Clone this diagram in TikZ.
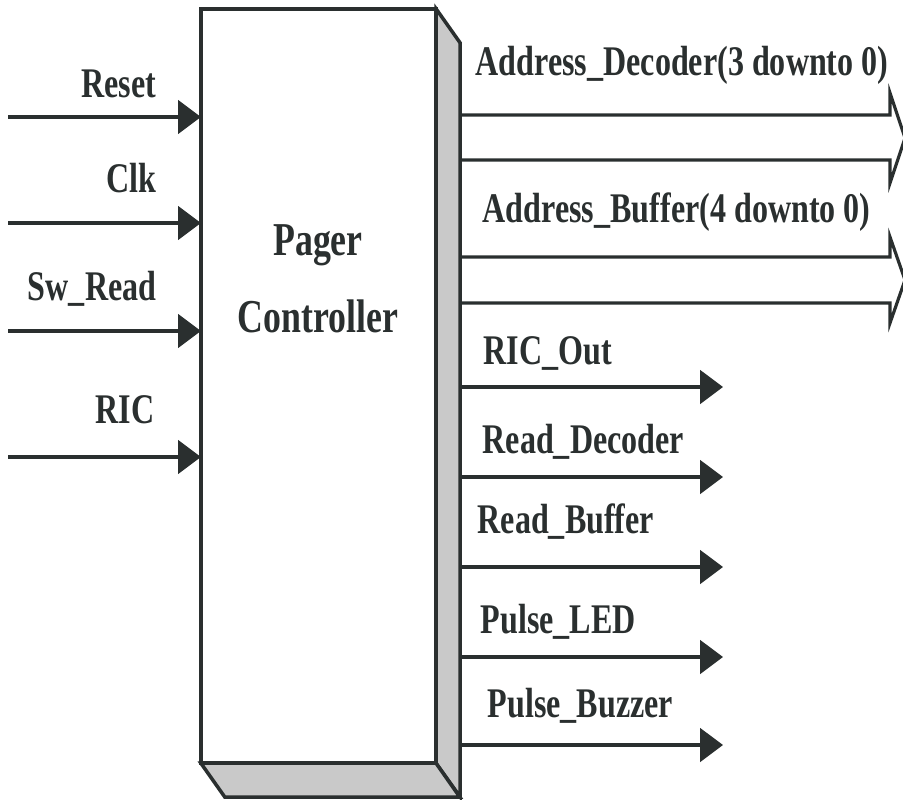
\documentclass[tikz,border=0pt]{standalone}
\usepackage{fontspec}
\setmainfont{Liberation Serif}[FakeStretch=0.76]
\usetikzlibrary{positioning,arrows.meta,calc}
\definecolor{ink}{HTML}{2A2F2F}
\definecolor{face}{HTML}{C9C9C9}

\begin{document}
\begin{tikzpicture}[x=0.01cm, y=-0.01cm,
    sig/.style={-{Triangle[length=6.5pt,width=9.5pt]}, ink, line width=0.9pt},
    lbl/.style={text=ink, font=\fontsize{12}{14}\selectfont\bfseries, inner sep=0pt},
    title/.style={text=ink, font=\fontsize{13.4}{16}\selectfont\bfseries, inner sep=0pt},
    bus/.style={ink, line width=0.9pt, line join=miter}]
  \useasboundingbox (0,0) rectangle (903,799);

  % Controller block
  \node[draw=ink, line width=1.2pt, fill=white, inner sep=0pt, outer sep=0pt,
    minimum width=2.35cm, minimum height=7.54cm] (pc) at (318.5,386) {};
  \filldraw[fill=face, draw=ink, line width=1pt]
    (pc.north east) -- ++(24,34) -- ++(0,754) -- (pc.south east) -- cycle;
  \filldraw[fill=face, draw=ink, line width=1pt]
    (pc.south west) -- ++(24,34) -- ++(235,0) -- (pc.south east) -- cycle;
  \node[title, anchor=base] (pager) at (318,255) {Pager};
  \node[title, anchor=base] (ctrl) at (318,332) {Controller};

  % Inputs
  \coordinate (reset-in) at (8,117);
  \draw[sig] (reset-in) -- (reset-in -| pc.west);
  \node[lbl, anchor=base east] (reset) at (157,97) {Reset};

  \coordinate (clk-in) at (8,223);
  \draw[sig] (clk-in) -- (clk-in -| pc.west);
  \node[lbl, anchor=base east] (clk) at (157,192) {Clk};

  \coordinate (swread-in) at (8,331);
  \draw[sig] (swread-in) -- (swread-in -| pc.west);
  \node[lbl, anchor=base east] (swread) at (157,300) {Sw\_Read};

  \coordinate (ric-in) at (8,457);
  \draw[sig] (ric-in) -- (ric-in -| pc.west);
  \node[lbl, anchor=base east] (ric) at (155,423) {RIC};

  % Address buses
  \draw[bus] (460,115) -- (890,115) -- (890,93) -- (905,138) -- (890,183)
    -- (890,160) -- (460,160);
  \node[lbl, anchor=base west] (adec) at (475,75) {Address\_Decoder(3 downto 0)};

  \draw[bus] (460,257) -- (890,257) -- (890,237) -- (905,280) -- (890,323)
    -- (890,303) -- (460,303);
  \node[lbl, anchor=base west] (abuf) at (482,222) {Address\_Buffer(4 downto 0)};

  % Outputs
  \coordinate (ricout-src) at (460,387);
  \coordinate (ricout-dst) at (723,387);
  \draw[sig] (ricout-src) -- (ricout-dst);
  \node[lbl, anchor=base west] (ricout) at (483,364) {RIC\_Out};

  \coordinate (rdec-src) at (460,477);
  \coordinate (rdec-dst) at (723,477);
  \draw[sig] (rdec-src) -- (rdec-dst);
  \node[lbl, anchor=base west] (rdec) at (482,453) {Read\_Decoder};

  \coordinate (rbuf-src) at (460,567);
  \coordinate (rbuf-dst) at (723,567);
  \draw[sig] (rbuf-src) -- (rbuf-dst);
  \node[lbl, anchor=base west] (rbuf) at (477,533) {Read\_Buffer};

  \coordinate (led-src) at (460,657);
  \coordinate (led-dst) at (723,657);
  \draw[sig] (led-src) -- (led-dst);
  \node[lbl, anchor=base west] (led) at (480,633) {Pulse\_LED};

  \coordinate (buzz-src) at (460,745);
  \coordinate (buzz-dst) at (723,745);
  \draw[sig] (buzz-src) -- (buzz-dst);
  \node[lbl, anchor=base west] (buzz) at (487,717) {Pulse\_Buzzer};
\end{tikzpicture}
\end{document}
